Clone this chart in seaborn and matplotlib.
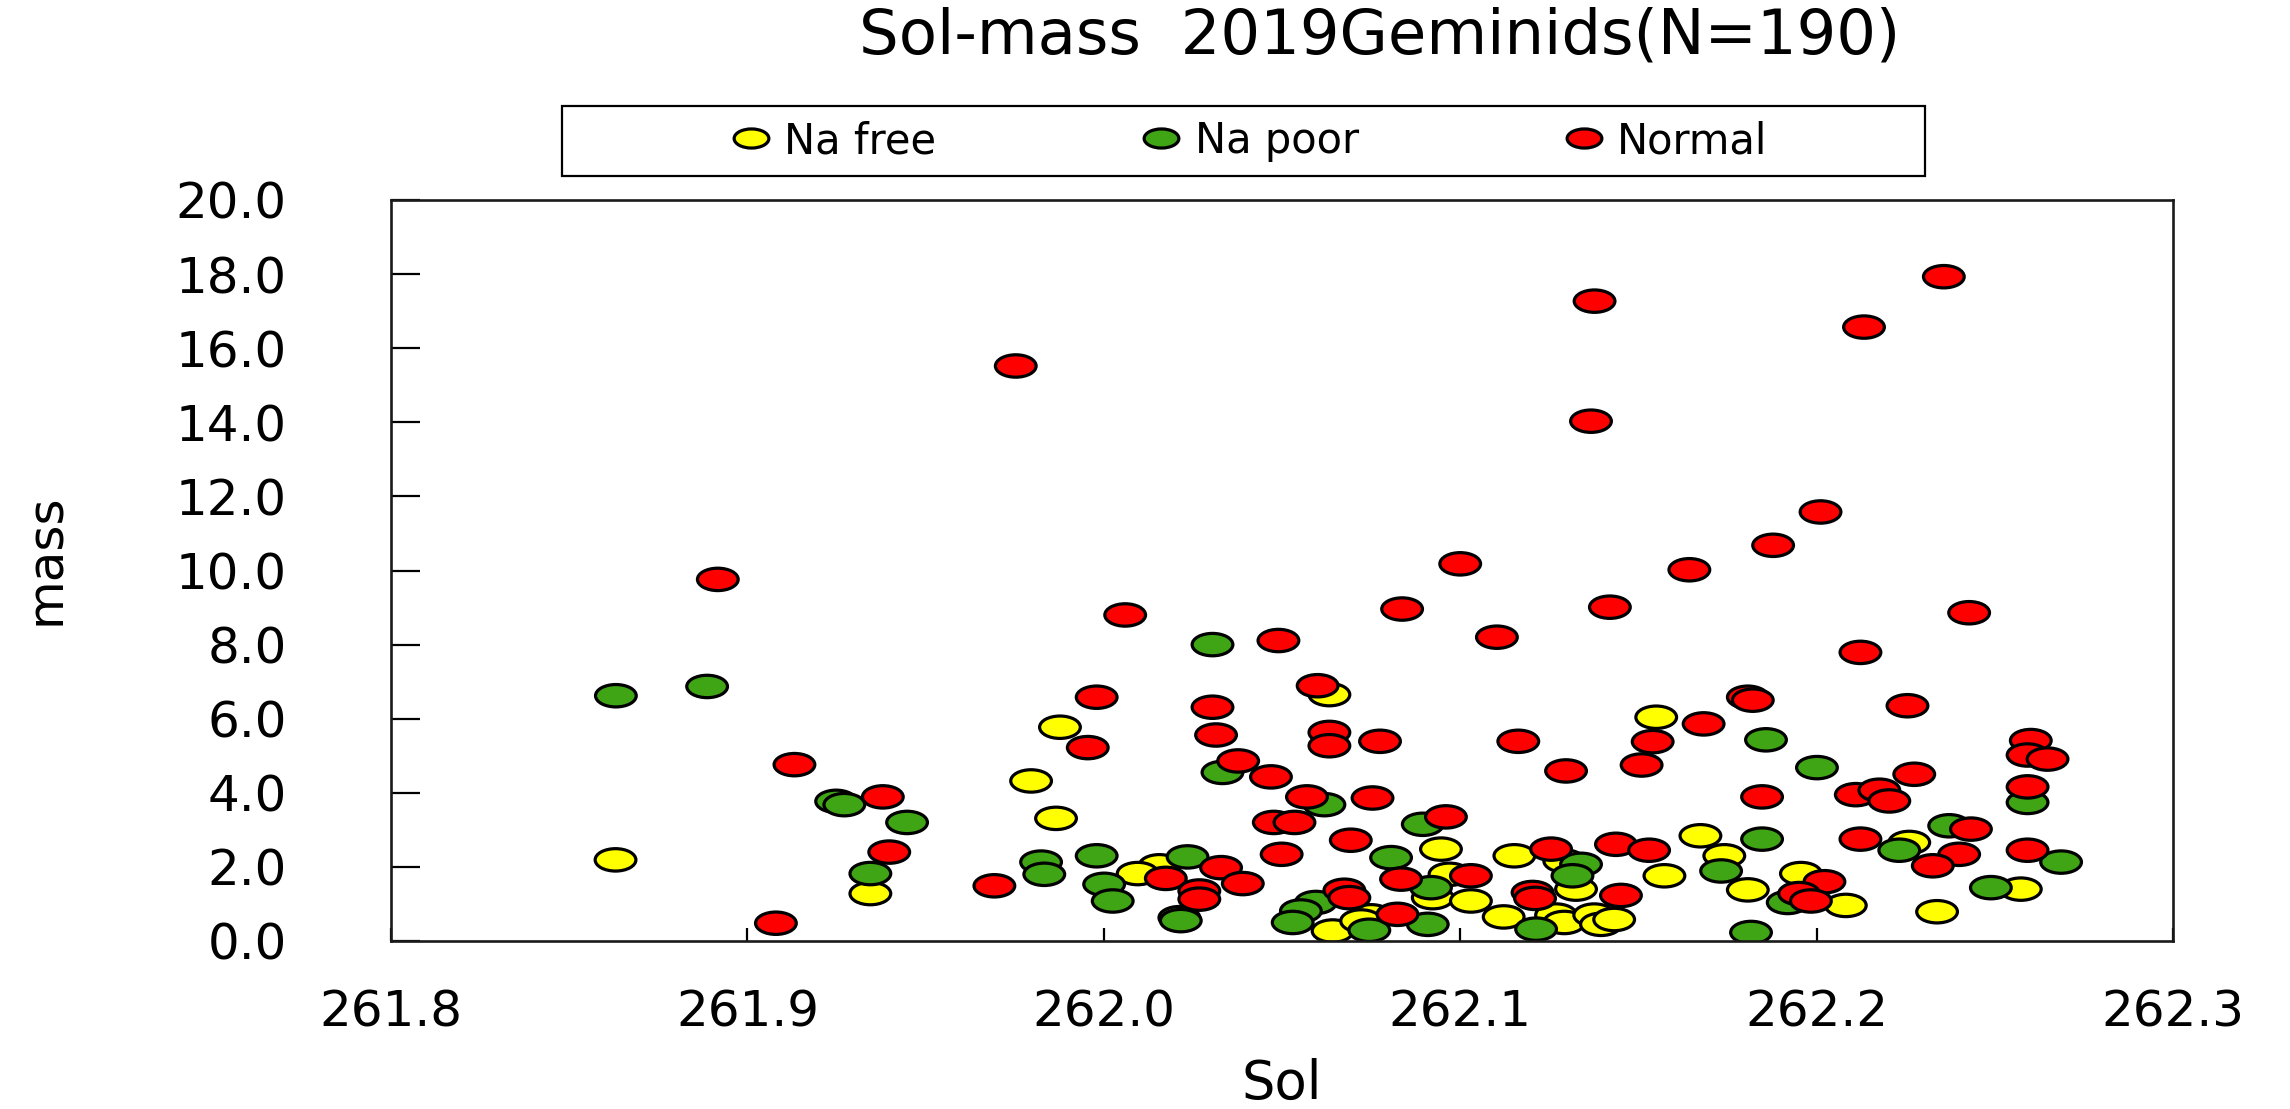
import pandas as pd
import matplotlib
matplotlib.use("Agg")
import matplotlib.pyplot as plt
import seaborn as sns
from matplotlib.path import Path
from matplotlib.markers import MarkerStyle
from matplotlib.transforms import Affine2D
from matplotlib.lines import Line2D
from matplotlib.patches import Rectangle
from matplotlib.ticker import FormatStrFormatter

# --- data ---
sol_na_free = [261.863, 261.9345, 261.9796, 261.9877, 261.9866, 262.0633, 262.0156, 262.0095,
               262.0642, 262.075, 262.0722, 262.0946, 262.1152, 262.1292, 262.1325, 262.0923,
               262.097, 262.103, 262.1122, 262.1269, 262.1292, 262.1376, 262.1395, 262.1432,
               262.155, 262.1674, 262.226, 262.1741, 262.1573, 262.1807, 262.1956, 262.2082,
               262.2573, 262.2338]
mass_na_free = [2.19, 1.28, 4.32, 5.77, 3.31, 6.65, 2.03, 1.82,
                0.27, 0.68, 0.54, 2.48, 2.30, 2.16, 1.40, 1.17,
                1.80, 1.08, 0.65, 0.70, 0.50, 0.70, 0.45, 0.58,
                6.04, 2.84, 2.66, 2.30, 1.76, 1.38, 1.82, 0.96,
                1.40, 0.79]

sol_na_poor = [261.8631, 261.8887, 261.9249, 261.9272, 261.9448, 261.9824, 261.9833, 261.998,
               261.9345, 262.0305, 262.0333, 262.0619, 262.0895, 262.0806, 262.1339, 262.1315,
               262.0235, 262.0001, 262.0025, 262.0212, 262.0216, 262.0595, 262.0553, 262.053,
               262.0745, 262.0909, 262.0918, 262.1213, 262.1858, 262.2001, 262.2592, 262.1847,
               262.2372, 262.2232, 262.2686, 262.1732, 262.1919, 262.2489, 262.1816]
mass_na_poor = [6.62, 6.87, 3.77, 3.68, 3.20, 2.13, 1.80, 2.30,
                1.82, 8.00, 4.55, 3.68, 3.15, 2.25, 2.07, 1.76,
                2.27, 1.53, 1.08, 0.63, 0.55, 1.04, 0.81, 0.50,
                0.29, 0.45, 1.44, 0.32, 5.43, 4.68, 3.74, 2.75,
                3.11, 2.45, 2.13, 1.89, 1.04, 1.44, 0.23]

sol_normal = [261.8917, 261.998, 261.9955, 261.9132, 261.938, 261.9398, 261.9693, 261.908,
              261.9753, 262.1377, 262.1367, 262.2357, 262.2133, 262.2011, 262.1878, 262.100,
              262.1643, 262.006, 262.0837, 262.142, 262.049, 262.1103, 262.0305, 262.060,
              262.0315, 262.0633, 262.0633, 262.0775, 262.1163, 262.0377, 262.0469, 262.1297,
              262.057, 262.0754, 262.0477, 262.0535, 262.096, 262.0693, 262.0499, 262.1255,
              262.1437, 262.153, 262.0174, 262.0329, 262.039, 262.0268, 262.0268, 262.0675,
              262.0689, 262.0824, 262.0834, 262.103, 262.1203, 262.121, 262.2123, 262.2428,
              262.1807, 262.1821, 262.2255, 262.1683, 262.154, 262.1509, 262.2601, 262.2592,
              262.2648, 262.2274, 262.1847, 262.211, 262.2176, 262.2204, 262.2592, 262.2123,
              262.2433, 262.24, 262.2326, 262.2592, 262.1451, 262.2022, 262.1951, 262.1984]
mass_normal = [9.76, 6.58, 5.22, 4.76, 3.89, 2.40, 1.49, 0.48,
               15.52, 17.27, 14.03, 17.93, 16.57, 11.58, 10.68, 10.18,
               10.02, 8.80, 8.96, 9.01, 8.11, 8.20, 6.31, 6.89,
               5.56, 5.63, 5.27, 5.39, 5.39, 4.86, 4.43, 4.59,
               3.89, 3.86, 3.20, 3.20, 3.35, 2.72, 2.34, 2.48,
               2.61, 2.45, 1.69, 1.98, 1.55, 1.35, 1.13, 1.37,
               1.17, 0.72, 1.67, 1.76, 1.31, 1.15, 7.79, 8.86,
               6.58, 6.50, 6.35, 5.86, 5.38, 4.75, 5.41, 5.02,
               4.91, 4.50, 3.89, 3.95, 4.07, 3.78, 4.16, 2.75,
               3.02, 2.34, 2.03, 2.45, 1.23, 1.60, 1.28, 1.08]

groups = ["Na free", "Na poor", "Normal"]
colors = {"Na free": "#FFFF00", "Na poor": "#3FA514", "Normal": "#FF0000"}
x_ticks = [261.8, 261.9, 262.0, 262.1, 262.2, 262.3]
y_ticks = [0, 2, 4, 6, 8, 10, 12, 14, 16, 18, 20]

df = pd.concat([
    pd.DataFrame({"Sol": sol_na_free, "mass": mass_na_free, "type": "Na free"}),
    pd.DataFrame({"Sol": sol_na_poor, "mass": mass_na_poor, "type": "Na poor"}),
    pd.DataFrame({"Sol": sol_normal, "mass": mass_normal, "type": "Normal"}),
], ignore_index=True)

sns.set_theme(style="white")
plt.rcParams["font.family"] = ["DejaVu Sans"]
plt.rcParams["text.color"] = "black"
plt.rcParams["axes.labelcolor"] = "black"

# the reference is stretched sideways, so the dots are flat ellipses
ellipse = MarkerStyle(Path.unit_circle().transformed(Affine2D().scale(1.0, 0.55)))

fig = plt.figure(figsize=(22.9, 11.09), dpi=100)
ax = fig.add_axes([391 / 2290, 1 - 941 / 1109, 1782 / 2290, 741 / 1109])

sns.scatterplot(data=df, x="Sol", y="mass", hue="type", hue_order=groups, palette=colors,
                marker=ellipse, s=860, edgecolor="black", linewidth=2.3, legend=False, ax=ax)

ax.set_xlim(261.8, 262.3)
ax.set_ylim(0, 20)
ax.set_xticks(x_ticks)
ax.set_yticks(y_ticks)
ax.xaxis.set_major_formatter(FormatStrFormatter("%.1f"))
ax.yaxis.set_major_formatter(FormatStrFormatter("%.1f"))
ax.tick_params(axis="y", left=True, direction="in", length=21, width=1.6, pad=75, labelsize=36,
               colors="black")
ax.tick_params(axis="x", bottom=True, direction="in", length=9.5, width=1.6, pad=34, labelsize=36,
               colors="black")
for sp in ax.spines.values():
    sp.set_visible(True)
    sp.set_color("#1a1a1a")
    sp.set_linewidth(1.9)

ax.set_xlabel("Sol", fontsize=38, color="black")
ax.xaxis.label.set_va("center")
ax.xaxis.set_label_coords(0.5, -(1084 - 941) / 741)
ax.set_ylabel("mass", fontsize=36, color="black")
ax.yaxis.label.set_va("center")
ax.yaxis.set_label_coords(-(391 - 46) / 1782, 0.5 + (570 - 559) / 741)

fig.text(1380 / 2290, 1 - 53 / 1109, "Sol-mass  2019Geminids(N=190)", ha="center", va="baseline",
         fontsize=45, color="black")

# legend: entries without frame, box drawn separately to match the wide reference box
handles = [Line2D([], [], ls="none", marker=ellipse, markersize=25, markerfacecolor=colors[g],
                  markeredgecolor="black", markeredgewidth=2.3) for g in groups]
leg = fig.legend(handles, groups, loc="center left", bbox_to_anchor=(705 / 2290, 1 - 141 / 1109),
                 ncol=3, frameon=False, fontsize=30, borderpad=0, handlelength=1.2,
                 handletextpad=0.2, columnspacing=4.8)
for t in leg.get_texts():
    t.set_color("black")
fig.add_artist(Rectangle((562 / 2290, 1 - 176 / 1109), 1363 / 2290, 70 / 1109,
                         transform=fig.transFigure, fill=False, edgecolor="black", linewidth=1.6))

fig.savefig("out.png", dpi=100)
